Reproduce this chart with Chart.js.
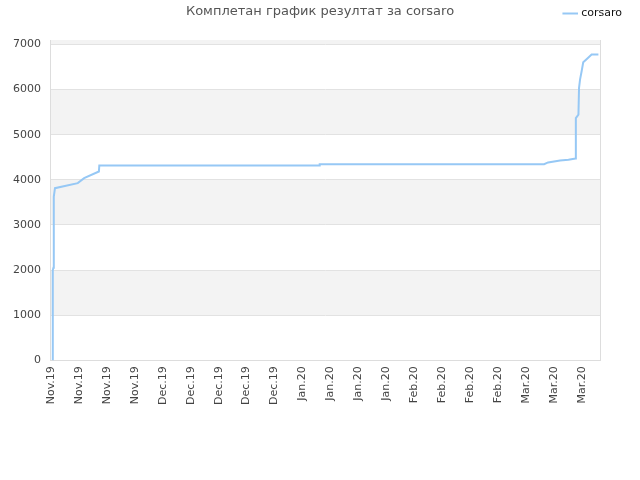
<!DOCTYPE html>
<html>
<head>
<meta charset="utf-8">
<script src="https://cdn.jsdelivr.net/npm/chart.js@4"></script>
<style>
  html, body { margin: 0; padding: 0; background: #fff; }
  #wrap { width: 640px; height: 480px; }
</style>
</head>
<body>
<div id="wrap"><canvas id="grafik" width="640" height="480"></canvas></div>
<script>
// dani od pocetka grafika (x) i ukupni rezultat (y)
const dani = [0.4, 0.45, 0.6, 0.7, 1.0, 6.7, 8.3, 12.0, 12.1, 67.2, 67.3, 123.5, 124.5, 127.5, 129.6, 131.4, 131.45, 132.1, 132.25, 132.5, 132.9, 133.3, 134.2, 135.4, 137.1];
const rezultat = [0, 2000, 2050, 3630, 3815, 3926, 4037, 4185, 4320, 4320, 4345, 4345, 4385, 4430, 4444, 4474, 5370, 5444, 6037, 6222, 6407, 6607, 6681, 6778, 6778];

// oznake na x osi, jedna na svakih 7 dana
const tickDani = [0, 7, 14, 21, 28, 35, 42, 49, 56, 63, 70, 77, 84, 91, 98, 105, 112, 119, 126, 133];
const tickOznake = ['Nov.19', 'Nov.19', 'Nov.19', 'Nov.19', 'Dec.19', 'Dec.19', 'Dec.19', 'Dec.19', 'Dec.19',
  'Jan.20', 'Jan.20', 'Jan.20', 'Jan.20', 'Feb.20', 'Feb.20', 'Feb.20', 'Feb.20', 'Mar.20', 'Mar.20', 'Mar.20'];
const yTickovi = [0, 1000, 2000, 3000, 4000, 5000, 6000, 7000];

const naslov = 'Комплетан график резултат за corsaro';

// naizmjenicne sive trake iza grafika + naslov
const pozadina = {
  id: 'pozadina',
  beforeInit(chart) {
    // malo vise mjesta ispod legende
    const fit = chart.legend.fit;
    chart.legend.fit = function () {
      fit.bind(chart.legend)();
      this.height += 11;
    };
  },
  beforeDraw(chart) {
    const { ctx, chartArea: a, scales: { y } } = chart;
    ctx.save();
    ctx.fillStyle = '#f3f3f3';
    yTickovi.forEach((v, i) => {
      if (i % 2 === 1) {
        const top = y.getPixelForValue(i + 1 < yTickovi.length ? yTickovi[i + 1] : y.max);
        const bot = y.getPixelForValue(v);
        ctx.fillRect(a.left, top, a.right - a.left, bot - top);
      }
    });
    ctx.restore();
  },
  afterDraw(chart) {
    const { ctx } = chart;
    ctx.save();
    ctx.font = '13px "DejaVu Sans"';
    ctx.fillStyle = '#555';
    ctx.textAlign = 'center';
    ctx.textBaseline = 'middle';
    ctx.fillText(naslov, 320, 12);
    ctx.restore();
  }
};

const ctx = document.getElementById('grafik').getContext('2d');
new Chart(ctx, {
  type: 'line',
  data: {
    datasets: [{
      label: 'corsaro',
      data: dani.map((d, i) => ({ x: d, y: rezultat[i] })),
      borderColor: 'rgb(150, 200, 245)',
      backgroundColor: 'rgb(150, 200, 245)',
      borderWidth: 2,
      pointRadius: 0,
      tension: 0,
      fill: false,
    }],
  },
  options: {
    responsive: false,
    animation: false,
    layout: { padding: { top: 0, right: 10, bottom: 69, left: 3 } },
    plugins: {
      title: { display: false },
      tooltip: { enabled: false },
      legend: {
        position: 'top',
        align: 'end',
        labels: {
          usePointStyle: true,
          pointStyle: 'line',
          boxWidth: 12,
          color: '#111',
          font: { family: 'DejaVu Sans', size: 11 },
          padding: 8,
        },
      },
    },
    scales: {
      x: {
        type: 'linear',
        min: 0,
        max: 137.5,
        afterBuildTicks: axis => { axis.ticks = tickDani.map(v => ({ value: v })); },
        grid: { display: false, drawTicks: false },
        border: { color: '#ddd' },
        ticks: {
          autoSkip: false,
          minRotation: 90,
          maxRotation: 90,
          color: '#444',
          font: { family: 'DejaVu Sans', size: 11 },
          padding: 6,
          callback: (value, index) => tickOznake[index],
        },
      },
      y: {
        type: 'linear',
        min: 0,
        max: 7100,
        afterBuildTicks: axis => { axis.ticks = yTickovi.map(v => ({ value: v })); },
        grid: { color: '#e2e2e2', drawTicks: false },
        border: { color: '#ddd' },
        ticks: {
          color: '#444',
          font: { family: 'DejaVu Sans', size: 11 },
          padding: 10,
          callback: value => String(value),
        },
      },
      // prazna os desno, samo da ostavi prostor do ruba
      desno: {
        type: 'linear',
        position: 'right',
        display: true,
        grid: { display: false, drawTicks: false },
        border: { color: '#ddd' },
        ticks: { display: false },
        afterFit: axis => { axis.width = 30; },
      },
    },
  },
  plugins: [pozadina],
});
</script>
</body>
</html>
